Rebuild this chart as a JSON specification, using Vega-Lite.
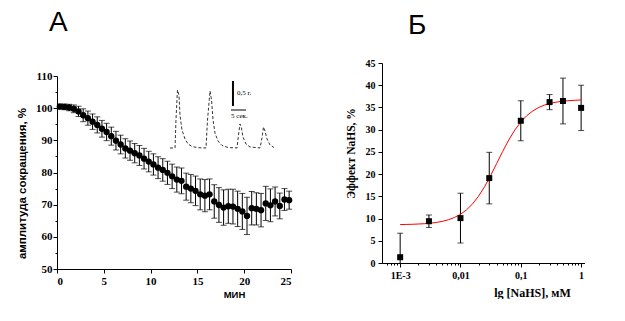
{
  "$schema": "https://vega.github.io/schema/vega-lite/v6.json",
  "padding": {"left": 16, "top": 8, "right": 0, "bottom": 0},
  "background": "white",
  "spacing": 52,
  "config": {
    "view": {"stroke": null},
    "axis": {
      "grid": false,
      "domainColor": "black",
      "tickColor": "black",
      "labelColor": "black",
      "titleColor": "black",
      "labelFont": "Liberation Serif",
      "labelFontWeight": "bold",
      "labelOverlap": false,
      "tickSize": 4
    }
  },
  "datasets": {
    "decline": [
      {"t": 0.3, "y": 100.5, "e": 0.8}, {"t": 0.8, "y": 100.4, "e": 0.9}, {"t": 1.3, "y": 100.2, "e": 1.0},
      {"t": 1.8, "y": 99.8, "e": 1.2}, {"t": 2.3, "y": 99.0, "e": 1.6}, {"t": 2.8, "y": 97.8, "e": 2.0},
      {"t": 3.3, "y": 96.9, "e": 2.2}, {"t": 3.8, "y": 95.8, "e": 2.4}, {"t": 4.3, "y": 94.8, "e": 2.5},
      {"t": 4.8, "y": 93.6, "e": 2.6}, {"t": 5.3, "y": 92.6, "e": 2.7}, {"t": 5.8, "y": 91.3, "e": 2.8},
      {"t": 6.3, "y": 89.9, "e": 2.9}, {"t": 6.8, "y": 88.7, "e": 2.9}, {"t": 7.3, "y": 87.5, "e": 3.0},
      {"t": 7.8, "y": 86.8, "e": 3.0}, {"t": 8.3, "y": 86.0, "e": 3.0}, {"t": 8.8, "y": 85.3, "e": 3.1},
      {"t": 9.3, "y": 84.3, "e": 3.2}, {"t": 9.8, "y": 83.4, "e": 3.2}, {"t": 10.3, "y": 82.5, "e": 3.3},
      {"t": 10.8, "y": 81.5, "e": 3.4}, {"t": 11.3, "y": 80.8, "e": 3.5}, {"t": 11.8, "y": 79.9, "e": 3.6},
      {"t": 12.3, "y": 78.8, "e": 3.8}, {"t": 12.8, "y": 77.8, "e": 3.9}, {"t": 13.3, "y": 77.4, "e": 4.0},
      {"t": 13.8, "y": 75.6, "e": 4.2}, {"t": 14.3, "y": 75.0, "e": 4.4}, {"t": 14.8, "y": 74.3, "e": 4.6},
      {"t": 15.3, "y": 73.2, "e": 4.8}, {"t": 15.8, "y": 72.8, "e": 5.0}, {"t": 16.3, "y": 73.2, "e": 4.8},
      {"t": 16.8, "y": 71.0, "e": 5.2}, {"t": 17.3, "y": 69.9, "e": 5.4}, {"t": 17.8, "y": 69.1, "e": 5.5},
      {"t": 18.3, "y": 69.5, "e": 5.3}, {"t": 18.8, "y": 69.4, "e": 5.4}, {"t": 19.3, "y": 68.7, "e": 5.5},
      {"t": 19.8, "y": 67.9, "e": 5.6}, {"t": 20.3, "y": 66.5, "e": 5.8}, {"t": 20.8, "y": 68.9, "e": 5.2},
      {"t": 21.3, "y": 68.7, "e": 5.0}, {"t": 21.8, "y": 68.3, "e": 5.2}, {"t": 22.3, "y": 70.4, "e": 5.3},
      {"t": 22.8, "y": 69.8, "e": 5.1}, {"t": 23.3, "y": 71.0, "e": 4.5}, {"t": 23.8, "y": 69.6, "e": 4.0},
      {"t": 24.3, "y": 71.6, "e": 3.4}, {"t": 24.8, "y": 71.4, "e": 2.8}
    ],
    "trace": [
      {"i": 0, "tx": 12.07, "ty": 87.62}, {"i": 1, "tx": 12.61, "ty": 87.62}, {"i": 2, "tx": 12.71, "ty": 96.32},
      {"i": 3, "tx": 12.87, "ty": 105.65}, {"i": 4, "tx": 13.03, "ty": 104.09}, {"i": 5, "tx": 13.14, "ty": 97.88},
      {"i": 6, "tx": 13.35, "ty": 93.21}, {"i": 7, "tx": 13.68, "ty": 90.41}, {"i": 8, "tx": 14.0, "ty": 88.86},
      {"i": 9, "tx": 14.42, "ty": 88.08}, {"i": 10, "tx": 15.06, "ty": 87.71}, {"i": 11, "tx": 15.92, "ty": 87.62},
      {"i": 12, "tx": 16.08, "ty": 96.32}, {"i": 13, "tx": 16.35, "ty": 105.34}, {"i": 14, "tx": 16.51, "ty": 102.54},
      {"i": 15, "tx": 16.67, "ty": 96.32}, {"i": 16, "tx": 16.88, "ty": 92.28}, {"i": 17, "tx": 17.2, "ty": 89.79},
      {"i": 18, "tx": 17.63, "ty": 88.39}, {"i": 19, "tx": 18.27, "ty": 87.77}, {"i": 20, "tx": 19.23, "ty": 87.62},
      {"i": 21, "tx": 19.39, "ty": 91.66}, {"i": 22, "tx": 19.55, "ty": 95.08}, {"i": 23, "tx": 19.71, "ty": 93.83},
      {"i": 24, "tx": 19.87, "ty": 91.04}, {"i": 25, "tx": 20.19, "ty": 88.86}, {"i": 26, "tx": 20.62, "ty": 87.93},
      {"i": 27, "tx": 21.69, "ty": 87.62}, {"i": 28, "tx": 21.9, "ty": 90.73}, {"i": 29, "tx": 22.06, "ty": 94.15},
      {"i": 30, "tx": 22.22, "ty": 92.9}, {"i": 31, "tx": 22.44, "ty": 90.41}, {"i": 32, "tx": 22.76, "ty": 88.55},
      {"i": 33, "tx": 23.18, "ty": 87.77}
    ],
    "dose": [
      {"c": 0.001, "v": 1.3, "e": 5.4}, {"c": 0.003, "v": 9.4, "e": 1.4}, {"c": 0.01, "v": 10.1, "e": 5.6},
      {"c": 0.03, "v": 19.1, "e": 5.8}, {"c": 0.1, "v": 32.0, "e": 4.5}, {"c": 0.3, "v": 36.2, "e": 1.7},
      {"c": 0.5, "v": 36.45, "e": 5.15}, {"c": 1.0, "v": 34.9, "e": 5.1}
    ],
    "fit": [
      {"c": 0.001, "f": 8.65}, {"c": 0.001259, "f": 8.68}, {"c": 0.001585, "f": 8.71}, {"c": 0.001995, "f": 8.77},
      {"c": 0.002512, "f": 8.84}, {"c": 0.003162, "f": 8.96}, {"c": 0.003981, "f": 9.13}, {"c": 0.005012, "f": 9.37},
      {"c": 0.00631, "f": 9.73}, {"c": 0.007943, "f": 10.24}, {"c": 0.01, "f": 10.96}, {"c": 0.01259, "f": 11.95},
      {"c": 0.01585, "f": 13.29}, {"c": 0.01995, "f": 15.03}, {"c": 0.02512, "f": 17.17}, {"c": 0.03162, "f": 19.66},
      {"c": 0.03981, "f": 22.37}, {"c": 0.05012, "f": 25.1}, {"c": 0.0631, "f": 27.67}, {"c": 0.07943, "f": 29.9},
      {"c": 0.1, "f": 31.73}, {"c": 0.1259, "f": 33.16}, {"c": 0.1585, "f": 34.23}, {"c": 0.1995, "f": 35.01},
      {"c": 0.2512, "f": 35.57}, {"c": 0.3162, "f": 35.95}, {"c": 0.3981, "f": 36.22}, {"c": 0.5012, "f": 36.41},
      {"c": 0.631, "f": 36.53}, {"c": 0.7943, "f": 36.62}, {"c": 1.0, "f": 36.68}
    ]
  },
  "hconcat": [
    {
      "spacing": 3,
      "vconcat": [
        {
          "width": 234,
          "height": 1,
          "title": {"text": "А", "anchor": "start", "frame": "group", "dx": -8, "offset": 24, "fontSize": 28, "font": "Liberation Sans", "fontWeight": "normal", "color": "black"},
          "data": {"values": [{"k": 0}]},
          "mark": {"type": "point", "opacity": 0},
          "encoding": {}
        },
        {
          "width": 234,
          "height": 193,
          "layer": [
            {
              "data": {"name": "decline"},
              "mark": {"type": "errorbar", "color": "black", "thickness": 1, "ticks": {"size": 6, "color": "black"}},
              "encoding": {
                "x": {"field": "t", "type": "quantitative", "scale": {"domain": [0, 25], "nice": false},
                  "axis": {"title": "МИН", "values": [0, 2.5, 5, 7.5, 10, 12.5, 15, 17.5, 20, 22.5, 25],
                    "labelExpr": "datum.value % 5 === 0 ? datum.label : ''", "labelOverlap": false,
                    "tickSize": {"condition": {"test": "datum.value % 5 === 0", "value": 4}, "value": 2},
                    "labelFontSize": 11, "labelPadding": 2,
                    "titleFont": "Liberation Sans", "titleFontWeight": "bold", "titleFontSize": 9.5, "titleX": 177, "titlePadding": 3}},
                "y": {"field": "y", "type": "quantitative", "scale": {"domain": [50, 110], "nice": false},
                  "axis": {"title": "амплитуда сокращения, %", "tickCount": 12,
                    "labelExpr": "datum.value % 10 === 0 ? datum.label : ''", "labelOverlap": false,
                    "tickSize": {"condition": {"test": "datum.value % 10 === 0", "value": 4}, "value": 2},
                    "labelFontSize": 11, "labelPadding": 1,
                    "titleFont": "Liberation Sans", "titleFontWeight": "bold", "titleFontSize": 11.5, "titleY": 107, "titlePadding": 8}},
                "yError": {"field": "e"}
              }
            },
            {
              "data": {"name": "decline"},
              "mark": {"type": "point", "shape": "circle", "filled": true, "color": "black", "size": 40, "opacity": 1},
              "encoding": {
                "x": {"field": "t", "type": "quantitative"},
                "y": {"field": "y", "type": "quantitative"}
              }
            },
            {
              "data": {"name": "trace"},
              "mark": {"type": "line", "color": "black", "strokeWidth": 0.8, "strokeDash": [3, 2]},
              "encoding": {
                "x": {"field": "tx", "type": "quantitative"},
                "y": {"field": "ty", "type": "quantitative"},
                "order": {"field": "i"}
              }
            },
            {
              "data": {"values": [{"x": 18.8, "y": 108.45, "y2": 100.67}]},
              "mark": {"type": "rule", "color": "black", "strokeWidth": 2},
              "encoding": {
                "x": {"field": "x", "type": "quantitative"},
                "y": {"field": "y", "type": "quantitative"},
                "y2": {"field": "y2"}
              }
            },
            {
              "data": {"values": [{"x": 18.59, "x2": 20.19, "y": 99.43}]},
              "mark": {"type": "rule", "color": "black", "strokeWidth": 1},
              "encoding": {
                "x": {"field": "x", "type": "quantitative"},
                "x2": {"field": "x2"},
                "y": {"field": "y", "type": "quantitative"}
              }
            },
            {
              "data": {"values": [{"x": 19.23, "y": 104.7, "label": "0,5 г."}, {"x": 18.59, "y": 97.56, "label": "5 сек."}]},
              "mark": {"type": "text", "align": "left", "baseline": "middle", "font": "Liberation Serif", "fontSize": 7, "color": "black"},
              "encoding": {
                "x": {"field": "x", "type": "quantitative"},
                "y": {"field": "y", "type": "quantitative"},
                "text": {"field": "label"}
              }
            }
          ]
        }
      ]
    },
    {
      "width": 203,
      "height": 200,
      "title": {"text": "Б", "anchor": "start", "frame": "group", "dx": 26, "offset": 18, "fontSize": 28, "font": "Liberation Sans", "fontWeight": "normal", "color": "black"},
      "layer": [
        {
          "data": {"name": "dose"},
          "mark": {"type": "errorbar", "color": "black", "thickness": 1, "clip": true, "ticks": {"size": 6, "color": "black"}},
          "encoding": {
            "x": {"field": "c", "type": "quantitative", "scale": {"type": "log", "domain": [0.0005, 1.16], "nice": false},
              "axis": {"title": "lg [NaHS], мМ",
                "values": [0.0006, 0.0007, 0.0008, 0.0009, 0.001, 0.002, 0.003, 0.004, 0.005, 0.006, 0.007, 0.008, 0.009, 0.01, 0.02, 0.03, 0.04, 0.05, 0.06, 0.07, 0.08, 0.09, 0.1, 0.2, 0.3, 0.4, 0.5, 0.6, 0.7, 0.8, 0.9, 1],
                "labelExpr": "datum.value === 0.001 ? '1E-3' : datum.value === 0.01 ? '0,01' : datum.value === 0.1 ? '0,1' : datum.value === 1 ? '1' : ''", "labelOverlap": false,
                "tickSize": {"condition": {"test": "indexof([0.001, 0.01, 0.1, 1], datum.value) >= 0", "value": 4}, "value": 2},
                "labelFontSize": 10, "labelPadding": 3,
                "titleFont": "Liberation Serif", "titleFontWeight": "bold", "titleFontSize": 12, "titleX": 150, "titlePadding": 7}},
            "y": {"field": "v", "type": "quantitative", "scale": {"domain": [0, 45], "nice": false},
              "axis": {"title": "Эффект NaHS, %", "tickCount": 9, "labelOverlap": false,
                "labelFontSize": 10, "labelPadding": 3,
                "titleFont": "Liberation Serif", "titleFontWeight": "bold", "titleFontSize": 11.5, "titleY": 90, "titlePadding": 9}},
            "yError": {"field": "e"}
          }
        },
        {
          "data": {"name": "fit"},
          "mark": {"type": "line", "color": "#ff0000", "strokeWidth": 1},
          "encoding": {
            "x": {"field": "c", "type": "quantitative"},
            "y": {"field": "f", "type": "quantitative"}
          }
        },
        {
          "data": {"name": "dose"},
          "mark": {"type": "point", "shape": "square", "filled": true, "color": "black", "size": 36, "opacity": 1},
          "encoding": {
            "x": {"field": "c", "type": "quantitative"},
            "y": {"field": "v", "type": "quantitative"}
          }
        }
      ]
    }
  ]
}
